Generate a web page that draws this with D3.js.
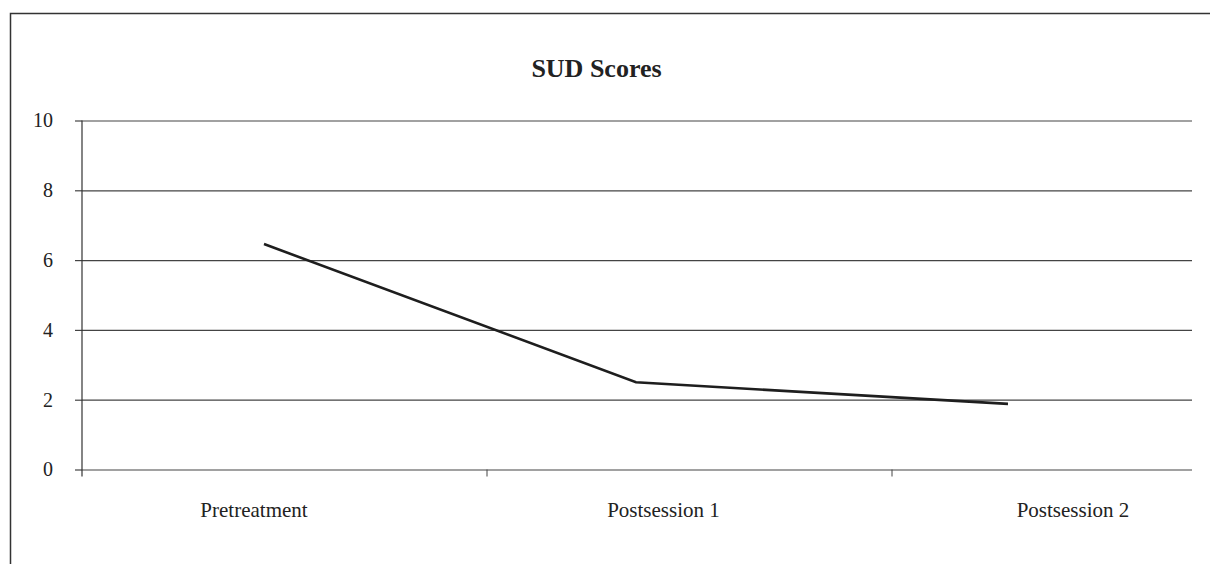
<!DOCTYPE html>
<html>
<head>
<meta charset="utf-8">
<script src="https://cdn.jsdelivr.net/npm/d3@7"></script>
<style>
  html, body { margin: 0; padding: 0; background: #fff; }
  svg { display: block; }
  text { font-family: "Liberation Serif", "Times New Roman", serif; fill: #222; }
</style>
</head>
<body>
<svg id="chart" width="1210" height="564"></svg>
<script>
const categories = ["Pretreatment", "Postsession 1", "Postsession 2"];
const sudScores = [6.46, 2.5, 1.88];
const yTicks = [0, 2, 4, 6, 8, 10];
const chartTitle = "SUD Scores";

const svg = d3.select("#chart");

// outer frame (cropped on right and bottom)
svg.append("path")
  .attr("d", "M10.5,564 V13.5 H1210")
  .attr("fill", "none").attr("stroke", "#333").attr("stroke-width", 1.5);

const y = d3.scaleLinear().domain([0, 10]).range([469.5, 120.5]);
const xBand = d3.scaleBand().domain(categories).range([82, 1297]);
const xLine = d3.scalePoint().domain(categories).range([264, 1008]);
const xLabel = d3.scalePoint().domain(categories).range([254, 1073]);

const plotLeft = 82, plotRight = 1192;

// gridlines + y ticks
const yAxis = d3.axisLeft(y).tickValues(yTicks).tickSize(7).tickPadding(22).tickFormat(d3.format("d"));
const gy = svg.append("g").attr("transform", `translate(${plotLeft},0)`).call(yAxis);
gy.select(".domain").remove();
gy.selectAll(".tick line").attr("stroke", "#444").attr("stroke-width", 1.2);
gy.selectAll(".tick text")
  .attr("font-size", 20)
  .attr("font-family", "Liberation Serif, serif")
  .attr("fill", "#222");
gy.selectAll(".tick").append("line")
  .attr("x1", 0).attr("x2", plotRight - plotLeft)
  .attr("stroke", "#444").attr("stroke-width", 1.2);

// left axis line
svg.append("line")
  .attr("x1", plotLeft).attr("x2", plotLeft)
  .attr("y1", y(10)).attr("y2", y(0) + 7)
  .attr("stroke", "#333").attr("stroke-width", 1.2);

// x tick marks at category boundaries
svg.selectAll(".xtick")
  .data(categories.slice(1))
  .join("line")
  .attr("class", "xtick")
  .attr("x1", d => xBand(d)).attr("x2", d => xBand(d))
  .attr("y1", y(0)).attr("y2", y(0) + 7)
  .attr("stroke", "#444").attr("stroke-width", 1);

// category labels
svg.selectAll(".xlabel")
  .data(categories)
  .join("text")
  .attr("class", "xlabel")
  .attr("x", d => xLabel(d))
  .attr("y", 517)
  .attr("text-anchor", "middle")
  .attr("font-size", 21)
  .text(d => d);

// line
const line = d3.line()
  .x((d, i) => xLine(categories[i]))
  .y(d => y(d));
svg.append("path")
  .datum(sudScores)
  .attr("d", line)
  .attr("fill", "none")
  .attr("stroke", "#1e1e1e")
  .attr("stroke-width", 2.6);

// title
svg.append("text")
  .attr("x", 596.5).attr("y", 77)
  .attr("text-anchor", "middle")
  .attr("font-size", 26)
  .attr("font-weight", "bold")
  .text(chartTitle);
</script>
</body>
</html>
